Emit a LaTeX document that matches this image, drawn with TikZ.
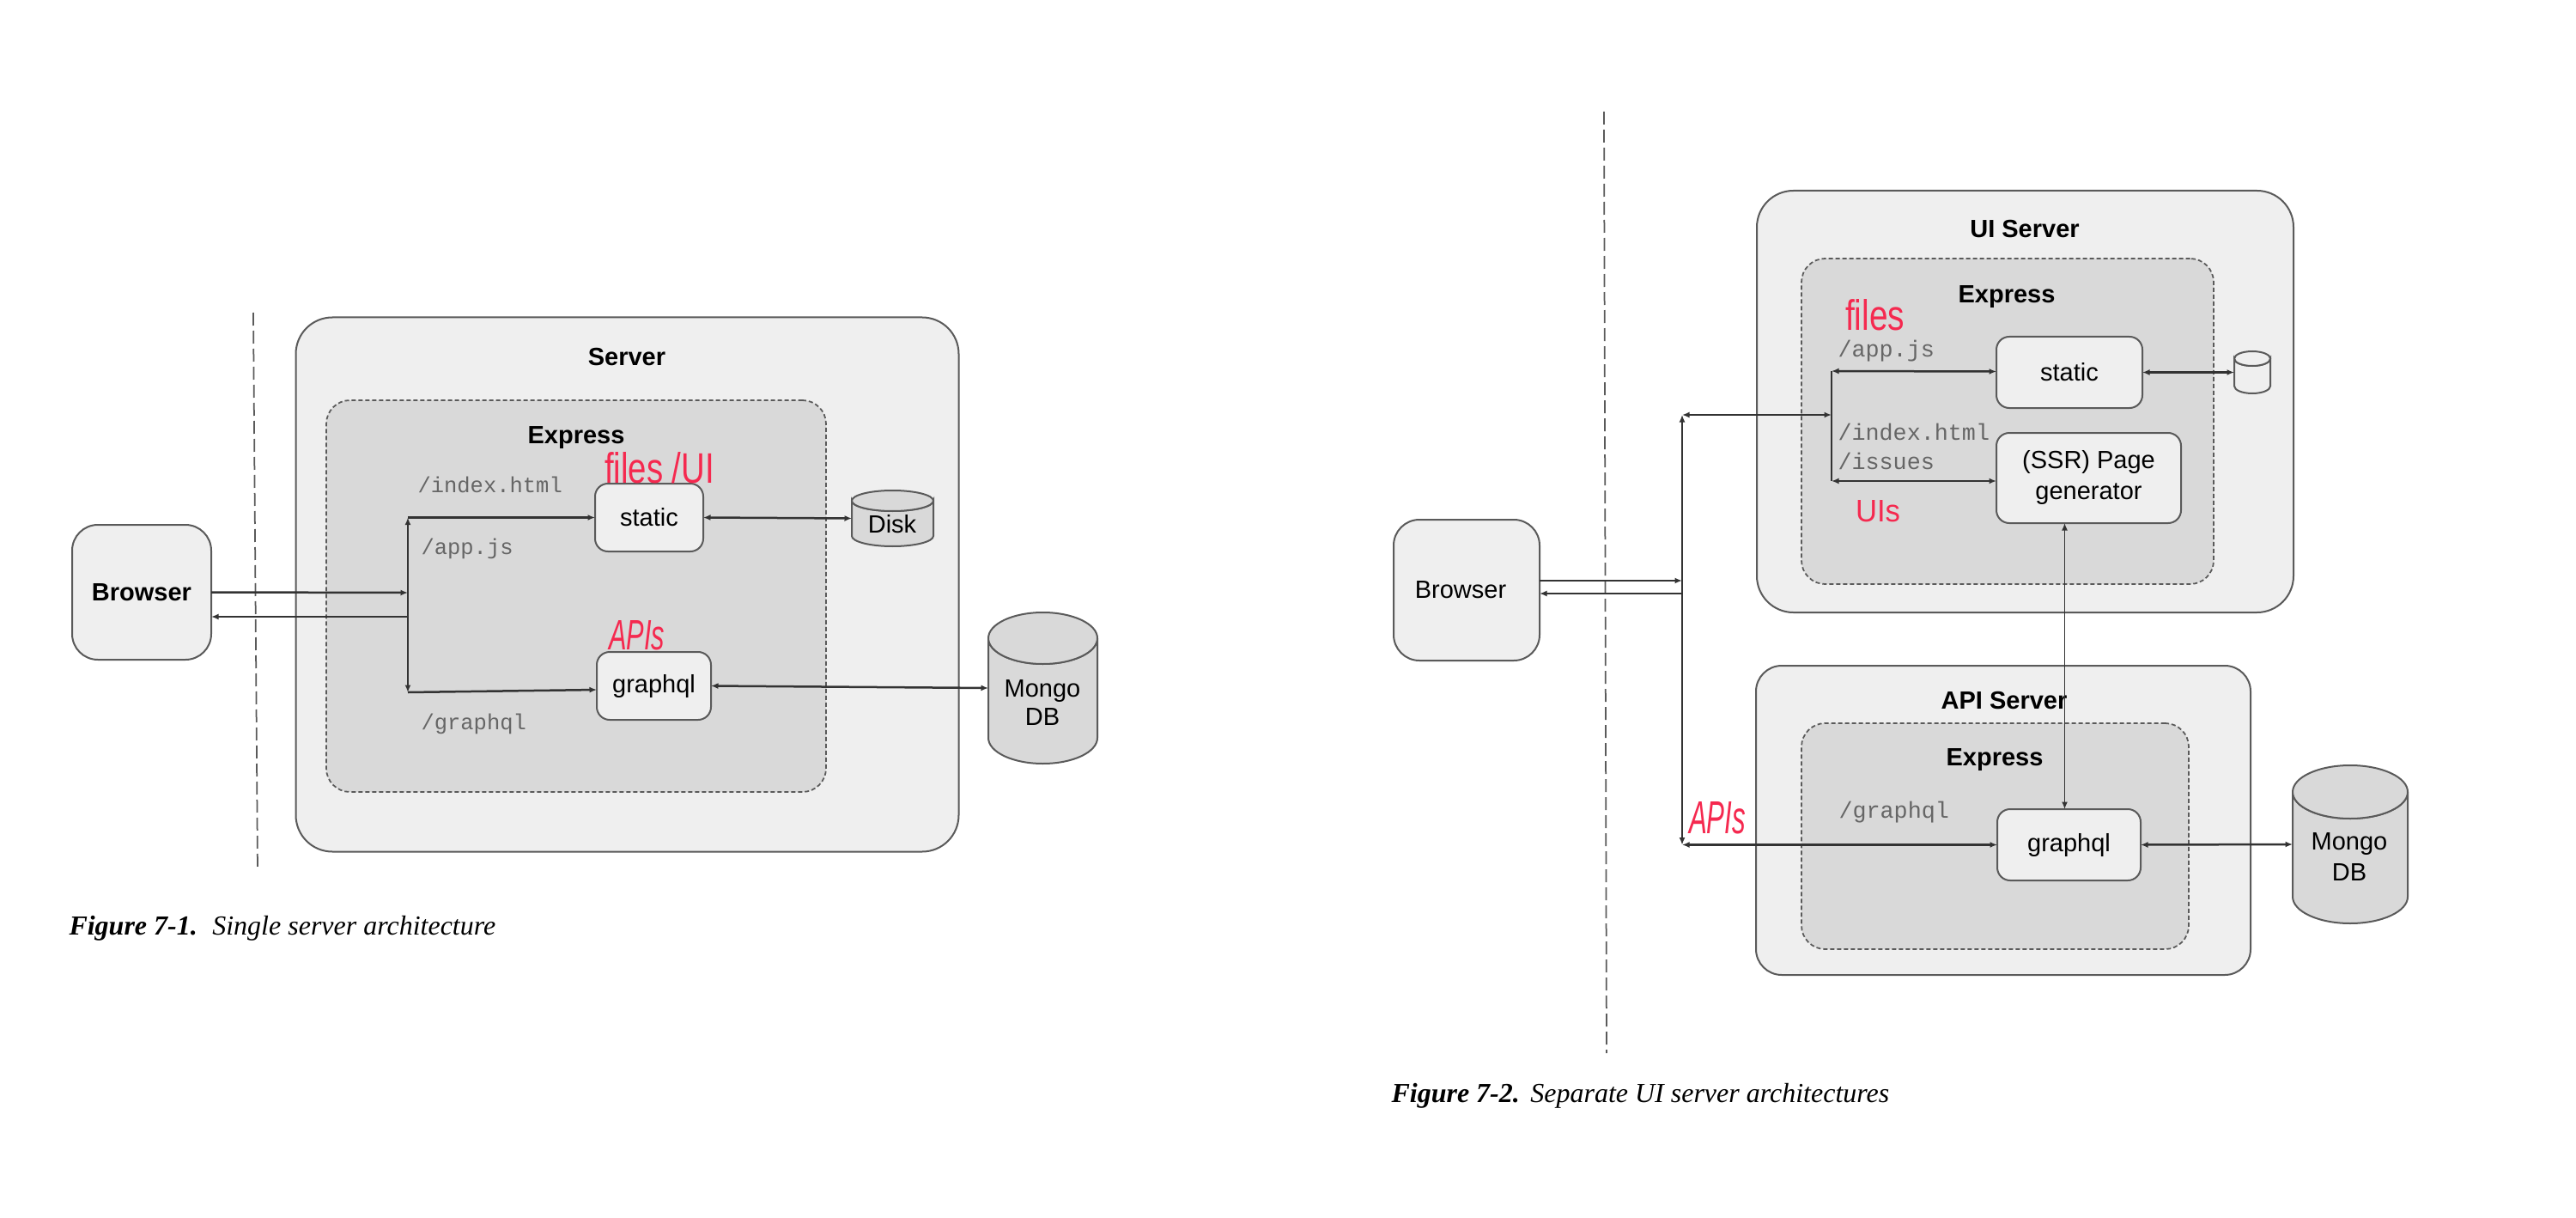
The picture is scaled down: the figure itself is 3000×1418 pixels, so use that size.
\documentclass[tikz,border=0pt]{standalone}
\usepackage{graphicx}
\usepackage{fontspec}
\setmainfont{Liberation Serif}
\setsansfont{Liberation Sans}
\setmonofont{Liberation Mono}
\usetikzlibrary{arrows.meta,calc,shapes.geometric}
\definecolor{srvfill}{HTML}{EFEFEF}
\definecolor{expfill}{HTML}{D9D9D9}
\definecolor{edgecol}{HTML}{5A5A5A}
\definecolor{linecol}{HTML}{333333}
\definecolor{pathcol}{HTML}{666666}
\definecolor{inkred}{HTML}{F5294F}
\newdimen\pxu \pxu=0.4pt
\newcommand{\redink}[3]{\resizebox{#1\pxu}{#2\pxu}{\sffamily #3}}
% cylinder drawn on the named frame node #1, radii #2 and #3, fill #4
\newcommand{\cylon}[4]{%
  \draw[draw=edgecol,line width=0.8pt,fill=#4]
    ($(#1.north west)+(0,#3)$) -- ($(#1.south west)+(0,-#3)$)
    arc[start angle=180,end angle=0,x radius=#2,y radius=#3]
    -- ($(#1.north east)+(0,#3)$)
    arc[start angle=0,end angle=180,x radius=#2,y radius=#3] -- cycle;
  \draw[draw=edgecol,line width=0.8pt,fill=#4]
    ($(#1.north)+(0,#3)$) ellipse[x radius=#2,y radius=#3];
}
\tikzset{
  basebox/.style={draw=edgecol,line width=0.8pt,inner sep=0pt,outer sep=0pt,font=\sffamily\fontsize{11.6pt}{14.4pt}\selectfont,align=center},
  serverbox/.style={basebox,fill=srvfill,rounded corners=17pt},
  smallserver/.style={basebox,fill=srvfill,rounded corners=12pt},
  expressbox/.style={basebox,fill=expfill,line width=0.7pt,dash pattern=on 2pt off 1.2pt,rounded corners=11pt},
  svc/.style={basebox,fill=srvfill,rounded corners=6pt},
  browserbox/.style={basebox,fill=srvfill,rounded corners=12pt},
  cylframe/.style={inner sep=0pt,outer sep=0pt},
  titletext/.style={inner sep=0pt,font=\sffamily\bfseries\fontsize{11.6pt}{14.5pt}\selectfont},
  plaintext/.style={inner sep=0pt,align=center,font=\sffamily\fontsize{11.6pt}{13.2pt}\selectfont},
  pathL/.style={inner sep=0pt,anchor=west,text=pathcol,font=\ttfamily\fontsize{10.2pt}{12pt}\selectfont},
  pathR/.style={inner sep=0pt,anchor=west,text=pathcol,font=\ttfamily\fontsize{10.7pt}{12pt}\selectfont},
  inktext/.style={inner sep=0pt,text=inkred},
  captiontext/.style={inner sep=0pt,anchor=base west,font=\fontsize{12.8pt}{15pt}\selectfont},
  boundary/.style={draw=edgecol,line width=0.7pt,dash pattern=on 6pt off 2.4pt},
  wire/.style={draw=linecol,line width=1pt,{Latex[length=3.4pt,width=2.8pt]}-{Latex[length=3.4pt,width=2.8pt]}},
  wirer/.style={draw=linecol,line width=1pt,-{Latex[length=3.4pt,width=2.8pt]}},
  thinwire/.style={wire,line width=0.6pt},
}
\begin{document}
\begin{tikzpicture}[x=0.4pt,y=-0.4pt]
\useasboundingbox (0,0) rectangle (3000,1418);
\fill[white] (0,0) rectangle (3000,1418);

% ---------- Figure 7-1 ----------
\coordinate (divAt) at (295,364);
\coordinate (divAb) at (300,1014);
\draw[boundary] (divAt) -- (divAb);

\node[serverbox,minimum width=772*0.4pt,minimum height=622*0.4pt] (srvA) at (730.5,680.5) {};
\node[expressbox,minimum width=582*0.4pt,minimum height=456*0.4pt] (expA) at (671,694) {};
\node[titletext] (srvAt) at (730,416) {Server};
\node[titletext] (expAt) at (671,510) {Express};

\node[browserbox,font=\sffamily\bfseries\fontsize{11.6pt}{14.5pt}\selectfont,minimum width=162*0.4pt,minimum height=157*0.4pt] (browA) at (165,689.5) {Browser};
\node[svc,minimum width=126*0.4pt,minimum height=79*0.4pt] (staticA) at (756,602.5) {static};
\node[svc,minimum width=133*0.4pt,minimum height=79*0.4pt] (gqlA) at (761.5,798.5) {graphql};
\node[cylframe,minimum width=95*0.4pt,minimum height=65*0.4pt] (diskA) at (1039.5,603.5) {};
\cylon{diskA}{47.5}{12}{expfill}
\node[plaintext] (diskAt) at (1039,610) {Disk};
\node[cylframe,minimum width=127*0.4pt,minimum height=176*0.4pt] (mongoA) at (1214.5,801) {};
\cylon{mongoA}{63.5}{30}{expfill}
\node[plaintext,anchor=south] (mongoAt) at (1214,845) {Mongo\\DB};

\node[pathL] (pA1) at (486,564) {/index.html};
\node[pathL] (pA2) at (490,639) {/app.js};
\node[pathL] (pA3) at (490,843) {/graphql};

\node[inktext] (inkA1) at (768,545) {\redink{128}{36}{files /UI}};
\node[inktext] (inkA2) at (741.5,740) {\redink{65}{34}{\itshape APIs}};

\coordinate (busAt) at (475,602.5);
\coordinate (busAb) at (475,806);
\coordinate (busAin) at (475,690);
\coordinate (busAout) at (475,718);
\draw[thinwire,line width=0.8pt] (busAt) -- (busAb);
\draw[wirer] (busAt) -- (staticA.west);
\draw[wirer] (busAb) -- ($(gqlA.west)+(0,4.5)$);
\draw[wirer] (browA.east) -- (busAin);
\draw[wirer] (busAout) -- ($(browA.east)+(0,28.5)$);
\draw[wire] (staticA.east) -- (diskA.west);
\draw[wire] (gqlA.east) -- (mongoA.west);

\node[captiontext] (capA) at (80,1088) {\textbf{\textit{Figure 7-1.}}\hspace{7pt}\textit{Single server architecture}};

% ---------- Figure 7-2 ----------
\coordinate (divBt) at (1868,130);
\coordinate (divBb) at (1871,1226);
\draw[boundary] (divBt) -- (divBb);

\node[serverbox,minimum width=625*0.4pt,minimum height=491*0.4pt] (srvB) at (2358.5,467.5) {};
\node[expressbox,minimum width=480*0.4pt,minimum height=379*0.4pt] (expB) at (2338,490.5) {};
\node[titletext] (srvBt) at (2358,267) {UI Server};
\node[titletext] (expBt) at (2337,346) {Express};

\node[smallserver,minimum width=576*0.4pt,minimum height=360*0.4pt] (srvC) at (2333,955) {};
\node[expressbox,minimum width=451*0.4pt,minimum height=263*0.4pt] (expC) at (2323.5,973.5) {};
\node[titletext] (srvCt) at (2334,816) {API Server};
\node[titletext] (expCt) at (2323,885) {Express};

\node[browserbox,minimum width=170*0.4pt,minimum height=164*0.4pt] (browB) at (1708,687) {Browser\hspace{14\pxu}};
\node[svc,minimum width=170*0.4pt,minimum height=83*0.4pt] (staticB) at (2410,433.5) {static};
\node[svc,minimum width=215*0.4pt,minimum height=105*0.4pt] (ssr) at (2432.5,556.5) {\raisebox{-3\pxu}{(SSR) Page}\\\raisebox{-3\pxu}{generator}};
\node[svc,minimum width=167*0.4pt,minimum height=83*0.4pt] (gqlB) at (2409.5,983.5) {graphql};
\node[cylframe,minimum width=42*0.4pt,minimum height=49*0.4pt] (diskB) at (2623,433.5) {};
\cylon{diskB}{21}{8.5}{srvfill}
\node[cylframe,minimum width=134*0.4pt,minimum height=184*0.4pt] (mongoB) at (2737,983) {};
\cylon{mongoB}{67}{31}{expfill}
\node[plaintext,anchor=south,font=\sffamily\fontsize{11.6pt}{14.4pt}\selectfont] (mongoBt) at (2736,1026) {Mongo\\DB};

\node[pathR] (pB1) at (2140,409) {/app.js};
\node[pathR] (pB2) at (2140,503) {/index.html};
\node[pathR] (pB3) at (2140,537) {/issues};
\node[pathR] (pB4) at (2141,946) {/graphql};

\node[inktext] (inkB1) at (2183.5,367) {\redink{69}{36}{files}};
\node[inktext] (inkB2) at (2187,595.5) {\redink{52}{25}{UIs}};
\node[inktext] (inkB3) at (2000,952.5) {\redink{66}{37}{\itshape APIs}};

\coordinate (busBt) at (2133,432);
\coordinate (busBb) at (2133,560);
\coordinate (busBm) at (2133,483);
\coordinate (busCt) at (1959,483);
\coordinate (busCb) at (1959,983.5);
\coordinate (busCin) at (1959,676);
\coordinate (busCout) at (1959,691);
\coordinate (ssrx) at (2404.5,0);
\draw[draw=linecol,line width=1pt] (busBt) -- (busBb);
\draw[wire] (busBt) -- ($(staticB.west)+(0,-1)$);
\draw[wire] (busBb) -- (ssr.west |- busBb);
\draw[wire] (busCt) -- (busBm);
\draw[thinwire] (busCt) -- (busCb);
\draw[wirer] ($(browB.east)+(0,-11)$) -- (busCin);
\draw[wirer] (busCout) -- ($(browB.east)+(0,4)$);
\draw[wire] (busCb) -- (gqlB.west);
\draw[wire] (staticB.east) -- (diskB.west);
\draw[thinwire] (ssrx |- ssr.south) -- (ssrx |- gqlB.north);
\draw[wire] (gqlB.east) -- (mongoB.west);

\node[captiontext] (capB) at (1620,1283) {\textbf{\textit{Figure 7-2.}}\hspace{5pt}\textit{Separate UI server architectures}};
\end{tikzpicture}
\end{document}
